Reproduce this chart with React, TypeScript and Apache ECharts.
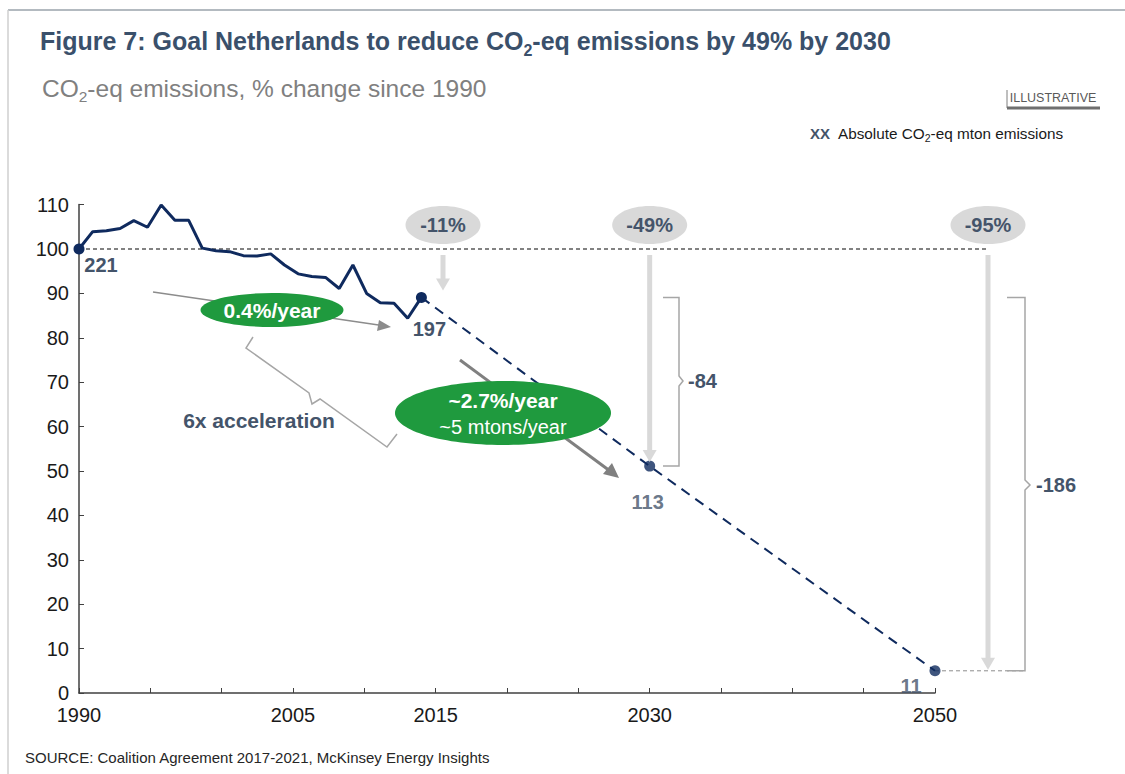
import React, { useEffect, useRef } from "react";
import * as echarts from "echarts";

// ---------- data ----------
const HIST_YEARS = [
  1990, 1991, 1992, 1993, 1994, 1995, 1996, 1997, 1998, 1999, 2000, 2001, 2002,
  2003, 2004, 2005, 2006, 2007, 2008, 2009, 2010, 2011, 2012, 2013, 2014, 2015,
];
const HIST_VALUES = [
  100, 103.9, 104.1, 104.6, 106.4, 104.9, 109.9, 106.5, 106.5, 100.2, 99.6, 99.4,
  98.5, 98.4, 98.9, 96.4, 94.4, 93.8, 93.6, 91.1, 96.4, 90.0, 87.9, 87.8, 84.4, 89.1,
];
const TARGET_YEARS = [2030, 2050];
const TARGET_VALUES = [51.1, 5.0];
const HIST_ABS_LABELS = ["221", "197"]; // 1990, 2015
const TARGET_ABS_LABELS = ["113", "11"]; // 2030, 2050
const GOAL_LABELS = ["-11%", "-49%", "-95%"];
const GAP_LABELS = ["-84", "-186"];
const RATE_LABELS = ["0.4%/year", "~2.7%/year", "~5 mtons/year"];
const X_LABEL_YEARS = [1990, 2005, 2015, 2030, 2050];
const BASELINE = 100;

const NAVY = "#0f2a5e";
const SLATE = "#44546a";
const TITLE = "#3a506b";
const GREEN = "#1f9a3e";
const LIGHT = "#d9d9d9";
const FONT = "Arial, 'Liberation Sans', sans-serif";

export default function App() {
  const ref = useRef<HTMLDivElement>(null);

  useEffect(() => {
    document.body.style.margin = "0";
    const chart = echarts.init(ref.current!, undefined, { renderer: "svg" });

    const lastIdx = HIST_YEARS.length - 1;
    const numLabel = {
      show: true,
      position: "inside",
      fontSize: 20,
      fontWeight: "bold",
      color: SLATE,
      fontFamily: FONT,
    };
    const histData = HIST_YEARS.map((yr, i) => {
      const isEnd = i === 0 || i === lastIdx;
      return {
        value: [yr, HIST_VALUES[i]],
        symbolSize: isEnd ? 11 : 0,
        label: isEnd
          ? {
              ...numLabel,
              formatter: i === 0 ? HIST_ABS_LABELS[0] : HIST_ABS_LABELS[1],
              offset: i === 0 ? [22, 16] : [8, 32],
            }
          : { show: false },
      };
    });
    const targetData = TARGET_YEARS.map((yr, i) => ({
      value: [yr, TARGET_VALUES[i]],
      label: {
        ...numLabel,
        formatter: TARGET_ABS_LABELS[i],
        offset: i === 0 ? [-2, 36] : [-24, 15],
      },
    }));

    const axisText = { fontSize: 20, color: "#1a1a1a", fontFamily: FONT };

    chart.setOption({
      animation: false,
      backgroundColor: "#ffffff",
      grid: { left: 79, right: 190, top: 204.6, bottom: 81, containLabel: false },
      xAxis: [
        {
          type: "value",
          min: 1990,
          max: 2050,
          interval: 5,
          axisLine: { show: true, lineStyle: { color: "#404040", width: 1.5 } },
          axisTick: { show: true, inside: true, length: 5, lineStyle: { color: "#404040" } },
          splitLine: { show: false },
          axisLabel: {
            ...axisText,
            margin: 12,
            formatter: (v: number) => (X_LABEL_YEARS.includes(v) ? String(v) : ""),
          },
        },
        {
          type: "value",
          min: 1990,
          max: 2052.5,
          show: false,
        },
      ],
      yAxis: {
        type: "value",
        min: 0,
        max: 110,
        interval: 10,
        axisLine: { show: true, lineStyle: { color: "#404040", width: 1.5 } },
        axisTick: { show: true, inside: true, length: 5, lineStyle: { color: "#404040" } },
        splitLine: { show: false },
        axisLabel: { ...axisText, margin: 10 },
      },
      series: [
        {
          name: "projection",
          type: "line",
          xAxisIndex: 0,
          data: [],
          symbol: "none",
          lineStyle: { color: NAVY, width: 2, type: [10, 7] },
          z: 2,
          silent: true,
        },
        {
          name: "history",
          type: "line",
          xAxisIndex: 1,
          data: histData,
          symbol: "circle",
          showSymbol: true,
          showAllSymbol: true,
          itemStyle: { color: NAVY },
          lineStyle: { color: NAVY, width: 3 },
          z: 3,
          silent: true,
        },
        {
          name: "targets",
          type: "scatter",
          xAxisIndex: 0,
          data: targetData,
          symbolSize: 11,
          itemStyle: { color: NAVY },
          z: 4,
          silent: true,
        },
      ],
    });

    const px = (x: number, y: number, xi = 0) =>
      chart.convertToPixel({ xAxisIndex: xi, yAxisIndex: 0 }, [x, y]) as number[];

    // projection starts at the last historical point (secondary axis) and runs on main axis
    const lastPix = px(HIST_YEARS[lastIdx], HIST_VALUES[lastIdx], 1);
    const startX = chart.convertFromPixel({ xAxisIndex: 0 }, lastPix[0]) as number;
    const projData = [[startX, HIST_VALUES[lastIdx]], ...TARGET_YEARS.map((y, i) => [y, TARGET_VALUES[i]])];

    const yOf = (v: number) => px(1990, v)[1];
    const y100 = yOf(BASELINE);
    const x1990 = px(1990, 0)[0];
    const x2030 = px(2030, 0)[0];
    const x2050 = px(2050, 0)[0];
    const yLast = yOf(HIST_VALUES[lastIdx]);
    const y2030 = yOf(TARGET_VALUES[0]);
    const y2050 = yOf(TARGET_VALUES[1]);

    const goalX = [443, x2030, x2050 + 53];
    const goalTipY = [yLast - 7, y2030 - 4, y2050 - 1];

    const G: any[] = [];
    const txt = (x: number, y: number, text: string, o: any = {}) => ({
      type: "text",
      x,
      y,
      z: o.z ?? 20,
      silent: true,
      style: {
        text,
        fill: o.fill ?? SLATE,
        fontSize: o.fontSize ?? 20,
        fontWeight: o.fontWeight ?? "bold",
        fontFamily: FONT,
        align: o.align ?? "center",
        verticalAlign: o.verticalAlign ?? "middle",
        rich: o.rich,
      },
    });

    // frame
    G.push({ type: "line", silent: true, shape: { x1: 8, y1: 10, x2: 1125, y2: 10 }, style: { stroke: "#9aa3ab", lineWidth: 1.5 } });
    G.push({ type: "line", silent: true, shape: { x1: 8, y1: 10, x2: 8, y2: 774 }, style: { stroke: "#cfcfcf", lineWidth: 1.5 } });

    // title & subtitle
    G.push(
      txt(40, 41, "{a|Figure 7: Goal Netherlands to reduce CO}{s|2}{a|-eq emissions by 49% by 2030}", {
        align: "left",
        rich: {
          a: { fontSize: 25, fontWeight: "bold", fill: TITLE, fontFamily: FONT, lineHeight: 34 },
          s: { fontSize: 16, fontWeight: "bold", fill: TITLE, fontFamily: FONT, lineHeight: 16, verticalAlign: "bottom" },
        },
      })
    );
    G.push(
      txt(42, 88, "{a|CO}{s|2}{a|-eq emissions, % change since 1990}", {
        align: "left",
        rich: {
          a: { fontSize: 24.5, fontWeight: "normal", fill: "#808080", fontFamily: FONT, lineHeight: 33 },
          s: { fontSize: 15.5, fontWeight: "normal", fill: "#808080", fontFamily: FONT, lineHeight: 15, verticalAlign: "bottom" },
        },
      })
    );

    // ILLUSTRATIVE tag
    G.push(txt(1053, 98, "ILLUSTRATIVE", { fontSize: 12.5, fontWeight: "normal", fill: "#595959" }));
    G.push({ type: "line", silent: true, shape: { x1: 1007, y1: 90, x2: 1007, y2: 108 }, style: { stroke: "#7f7f7f", lineWidth: 1 } });
    G.push({ type: "line", silent: true, shape: { x1: 1007, y1: 108, x2: 1100, y2: 108 }, style: { stroke: "#6f6f6f", lineWidth: 3 } });

    // legend note
    G.push(txt(810, 133, "XX", { fontSize: 15, align: "left" }));
    G.push(
      txt(838, 133, "{a|Absolute CO}{s|2}{a|-eq mton emissions}", {
        align: "left",
        rich: {
          a: { fontSize: 15.3, fontWeight: "normal", fill: "#1a1a1a", fontFamily: FONT, lineHeight: 21 },
          s: { fontSize: 10.5, fontWeight: "normal", fill: "#1a1a1a", fontFamily: FONT, lineHeight: 10, verticalAlign: "bottom" },
        },
      })
    );

    // baseline reference (100) dashed line
    G.push({
      type: "line", silent: true, z: 1,
      shape: { x1: x1990, y1: y100, x2: goalX[2], y2: y100 },
      style: { stroke: "#595959", lineWidth: 1.5, lineDash: [4, 3] },
    });
    // 2050 level dashed line to bracket
    G.push({
      type: "line", silent: true, z: 1,
      shape: { x1: x2050, y1: y2050, x2: 1025, y2: y2050 },
      style: { stroke: "#8c8c8c", lineWidth: 1, lineDash: [4, 3] },
    });

    // goal ellipses & arrows
    GOAL_LABELS.forEach((lab, i) => {
      const gx = goalX[i];
      G.push({ type: "ellipse", silent: true, z: 10, shape: { cx: gx, cy: 225, rx: 37.5, ry: 19 }, style: { fill: LIGHT } });
      G.push(txt(gx, 225, lab, { fontSize: 20 }));
      const top = y100 + 6;
      const tip = goalTipY[i];
      G.push({ type: "rect", silent: true, z: 9, shape: { x: gx - 2.5, y: top, width: 5, height: tip - 11 - top }, style: { fill: LIGHT } });
      G.push({ type: "polygon", silent: true, z: 9, shape: { points: [[gx - 7, tip - 12], [gx + 7, tip - 12], [gx, tip]] }, style: { fill: LIGHT } });
    });

    // brackets
    const bracket = (xl: number, xr: number, yt: number, yb: number, ym: number, tip: number) => ({
      type: "polyline", silent: true, z: 8,
      shape: { points: [[xl, yt], [xr, yt], [xr, ym - 5], [xr + tip, ym], [xr, ym + 5], [xr, yb], [xl, yb]] },
      style: { stroke: "#a6a6a6", lineWidth: 1.5, fill: "none" },
    });
    G.push(bracket(663, 679, yLast, y2030, 381, 4));
    G.push(txt(688, 381, GAP_LABELS[0], { align: "left" }));
    G.push(bracket(1007, 1025, yLast, y2050, 485, 5));
    G.push(txt(1036, 485, GAP_LABELS[1], { align: "left" }));

    // grey trend arrows
    G.push({ type: "line", silent: true, z: 6, shape: { x1: 153, y1: 292, x2: 382, y2: 325.5 }, style: { stroke: "#8c8c8c", lineWidth: 1.5 } });
    G.push({ type: "polygon", silent: true, z: 6, shape: { points: [[391, 327], [379, 320], [377, 331]] }, style: { fill: "#8c8c8c" } });
    G.push({ type: "line", silent: true, z: 6, shape: { x1: 460, y1: 360, x2: 610, y2: 471 }, style: { stroke: "#808080", lineWidth: 3 } });
    G.push({ type: "polygon", silent: true, z: 6, shape: { points: [[619, 478], [603, 474], [612, 463]] }, style: { fill: "#808080" } });

    // 6x acceleration brace
    G.push({
      type: "polyline", silent: true, z: 6,
      shape: { points: [[253, 337], [246, 348], [309, 393], [312, 404], [320, 399], [387, 447], [397, 434]] },
      style: { stroke: "#a6a6a6", lineWidth: 1.5, fill: "none" },
    });
    G.push(txt(259, 420, "6x acceleration", { fontSize: 21 }));

    // green rate ellipses
    G.push({ type: "ellipse", silent: true, z: 10, shape: { cx: 272, cy: 310, rx: 71.5, ry: 17 }, style: { fill: GREEN } });
    G.push(txt(272, 310, RATE_LABELS[0], { fill: "#ffffff", fontSize: 21 }));
    G.push({ type: "ellipse", silent: true, z: 10, shape: { cx: 503, cy: 413, rx: 108, ry: 32 }, style: { fill: GREEN } });
    G.push(txt(503, 400, RATE_LABELS[1], { fill: "#ffffff", fontSize: 21 }));
    G.push(txt(503, 427, RATE_LABELS[2], { fill: "#ffffff", fontSize: 20, fontWeight: "normal" }));

    // footer
    G.push(txt(25, 757, "SOURCE: Coalition Agreement 2017-2021, McKinsey Energy Insights", {
      fontSize: 15, fontWeight: "normal", fill: "#262626", align: "left",
    }));

    chart.setOption({
      series: [{ data: projData }],
      graphic: { elements: G },
    });

    return () => chart.dispose();
  }, []);

  return <div ref={ref} style={{ width: 1125, height: 774 }} />;
}
